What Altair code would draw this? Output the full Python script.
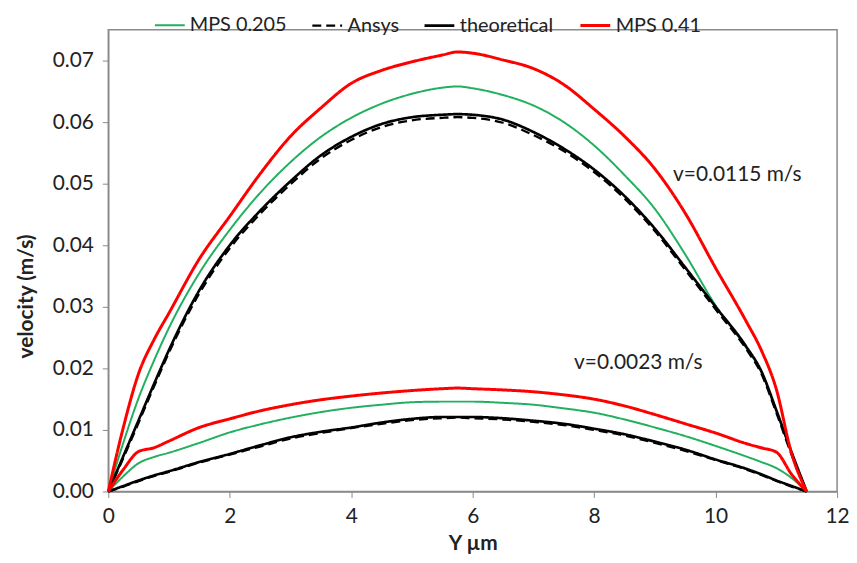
import altair as alt
import pandas as pd

# positions across the channel (µm)
y_um = [0, 0.25, 0.5, 0.75, 1, 1.5, 2, 2.5, 3, 3.5, 4, 4.5, 5, 5.5, 5.75, 6,
        6.5, 7, 7.5, 8, 8.5, 9, 9.5, 10, 10.5, 10.75, 11, 11.25, 11.5]

series_names = ["MPS 0.205", "Ansys", "theoretical", "MPS 0.41"]
series_colors = ["#22B05E", "#000000", "#000000", "#FF0000"]

# v = 0.0115 m/s profiles
mps205_hi = [0, 0.0080, 0.0152, 0.0212, 0.0266, 0.0355, 0.0425, 0.0485, 0.0535, 0.0576,
             0.0607, 0.0630, 0.0646, 0.0656, 0.0658, 0.0655, 0.0644, 0.0627, 0.0600, 0.0562,
             0.0514, 0.0459, 0.0385, 0.0302, 0.0234, 0.0195, 0.0131, 0.0063, 0]
ansys_hi = [0, 0.0055, 0.0112, 0.0170, 0.0226, 0.0322, 0.0395, 0.0451, 0.0499, 0.0541,
            0.0571, 0.0592, 0.0603, 0.0607, 0.0608, 0.0607, 0.0599, 0.0579, 0.0553, 0.0519,
            0.0476, 0.0423, 0.0360, 0.0296, 0.0232, 0.0192, 0.0128, 0.0060, 0]
theory_hi = [0, 0.0058, 0.0116, 0.0174, 0.0230, 0.0327, 0.0400, 0.0456, 0.0504, 0.0546,
             0.0576, 0.0597, 0.0608, 0.0612, 0.0613, 0.0612, 0.0604, 0.0584, 0.0557, 0.0523,
             0.0480, 0.0427, 0.0364, 0.0300, 0.0236, 0.0196, 0.0132, 0.0064, 0]
mps41_hi = [0, 0.0105, 0.0192, 0.0246, 0.0290, 0.0378, 0.0447, 0.0516, 0.0577, 0.0623,
            0.0663, 0.0684, 0.0698, 0.0709, 0.0714, 0.0712, 0.0701, 0.0687, 0.0661, 0.0621,
            0.0577, 0.0524, 0.0452, 0.0363, 0.0277, 0.0230, 0.0166, 0.0062, 0]

# v = 0.0023 m/s profiles
mps205_lo = [0, 0.0025, 0.0046, 0.0056, 0.0063, 0.0079, 0.0096, 0.0109, 0.0120, 0.0129,
             0.0136, 0.0141, 0.0145, 0.0146, 0.0146, 0.0146, 0.0144, 0.0141, 0.0135, 0.0128,
             0.0117, 0.0104, 0.0090, 0.0074, 0.0057, 0.0048, 0.0038, 0.0022, 0]
ansys_lo = [0, 0.0008, 0.0017, 0.0025, 0.0032, 0.0047, 0.0060, 0.0073, 0.0086, 0.0095,
            0.0103, 0.0110, 0.0116, 0.0119, 0.0120, 0.0119, 0.0117, 0.0113, 0.0108, 0.0100,
            0.0091, 0.0079, 0.0066, 0.0051, 0.0036, 0.0027, 0.0017, 0.0008, 0]
theory_lo = [0, 0.0009, 0.0018, 0.0026, 0.0033, 0.0048, 0.0061, 0.0075, 0.0088, 0.0097,
             0.0104, 0.0112, 0.0118, 0.0121, 0.0121, 0.0121, 0.0119, 0.0115, 0.0110, 0.0102,
             0.0093, 0.0081, 0.0068, 0.0052, 0.0037, 0.0028, 0.0018, 0.0009, 0]
mps41_lo = [0, 0.0036, 0.0065, 0.0071, 0.0082, 0.0104, 0.0118, 0.0131, 0.0141, 0.0149,
            0.0155, 0.0160, 0.0164, 0.0167, 0.0168, 0.0167, 0.0165, 0.0162, 0.0157, 0.0150,
            0.0139, 0.0125, 0.0110, 0.0095, 0.0078, 0.0071, 0.0064, 0.0028, 0]

ann_text = ["v=0.0115 m/s", "v=0.0023 m/s"]
ann_x = [9.30, 7.67]
ann_y = [0.0514, 0.0209]

rows = []
profiles = {
    "MPS 0.205": (mps205_hi, mps205_lo),
    "Ansys": (ansys_hi, ansys_lo),
    "theoretical": (theory_hi, theory_lo),
    "MPS 0.41": (mps41_hi, mps41_lo),
}
for name in series_names:
    hi, lo = profiles[name]
    for case, vals in (("hi", hi), ("lo", lo)):
        for xv, vv in zip(y_um, vals):
            rows.append({"series": name, "case": case, "x": xv, "v": vv})
df = pd.DataFrame(rows)
df["curve"] = df["series"] + "_" + df["case"]
df["ord"] = df["series"].map({n: i for i, n in enumerate(series_names)})

ann = pd.DataFrame({"text": ann_text, "x": ann_x, "v": ann_y})

FONT = "Lato"

lines = alt.Chart(df).mark_line(interpolate="monotone").encode(
    x=alt.X("x:Q", scale=alt.Scale(domain=[0, 12], nice=False),
            axis=alt.Axis(values=[0, 2, 4, 6, 8, 10, 12], format="d", title="Y µm",
                          labelFlush=False)),
    y=alt.Y("v:Q", scale=alt.Scale(domain=[0, 0.075], nice=False),
            axis=alt.Axis(values=[0, 0.01, 0.02, 0.03, 0.04, 0.05, 0.06, 0.07],
                          format=".2f", title="velocity (m/s)", labelFlush=False,
                          titleY=268)),
    color=alt.Color("series:N",
                    scale=alt.Scale(domain=series_names, range=series_colors),
                    legend=alt.Legend(title=None, orient="none", direction="horizontal",
                                      legendX=46, legendY=-21, symbolType="stroke",
                                      symbolSize=900, symbolStrokeWidth=2.5,
                                      labelFont=FONT, labelFontSize=20, labelColor="#222222",
                                      labelOffset=4, columnPadding=20)),
    strokeDash=alt.StrokeDash("series:N",
                              scale=alt.Scale(domain=series_names,
                                              range=[[1, 0], [9, 5], [1, 0], [1, 0]]),
                              legend=alt.Legend(title=None, orient="none")),
    strokeWidth=alt.StrokeWidth("series:N",
                                scale=alt.Scale(domain=series_names, range=[2, 3, 2.8, 2.5]),
                                legend=None),
    detail="curve:N",
    order="ord:Q",
)

labels = alt.Chart(ann).mark_text(align="left", baseline="middle", font=FONT,
                                  fontSize=21, color="#222222").encode(
    x="x:Q", y="v:Q", text="text:N")

chart = alt.layer(lines, labels).properties(
    width=734, height=465,
    autosize=alt.AutoSizeParams(type="none"),
    padding={"left": 101, "top": 20, "right": 12, "bottom": 62},
).configure_view(stroke="#8a8a8a", strokeWidth=1.5).configure_axis(
    grid=False, domainColor="#8a8a8a", domainWidth=1.5, tickColor="#8a8a8a",
    tickSize=6, labelFont=FONT, labelFontSize=21, labelColor="#222222",
    titleFont=FONT, titleFontSize=21, titleFontWeight="bold", titleColor="#222222",
).configure_axisY(labelPadding=9, titlePadding=16).configure_axisX(
    labelPadding=8, titlePadding=6)

chart.save("out.html", embed_options={"renderer": "svg", "actions": False})
